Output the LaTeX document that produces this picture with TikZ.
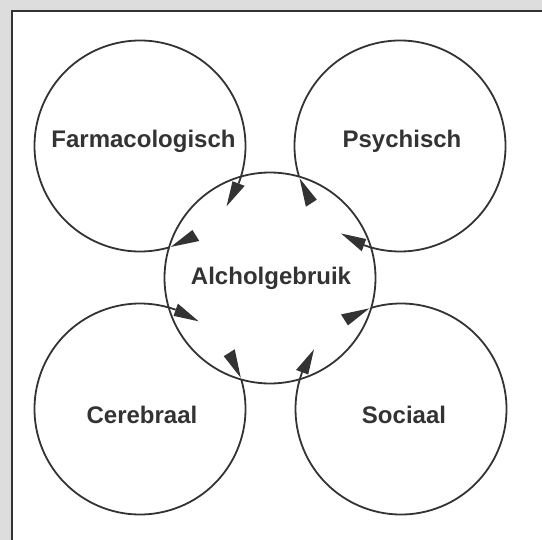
\documentclass[tikz,border=0pt]{standalone}
\usepackage{fontspec}
\setmainfont{Liberation Sans}
\usetikzlibrary{calc}
\definecolor{ink}{HTML}{333333}
\definecolor{paper}{HTML}{DDDDDD}
\tikzset{
  lbl/.style={inner sep=0pt, anchor=base, text=ink, font=\fontsize{24bp}{28bp}\selectfont\bfseries},
  ring/.style={draw=ink, line width=1.8bp},
  head/.style={fill=ink}
}
\begin{document}
\begin{tikzpicture}[x=1bp,y=-1bp]
\useasboundingbox (0,0) rectangle (542,540);
\fill[paper] (0,0) rectangle (542,540);
\fill[white] (12,11) rectangle (542,540);
\draw[ink, line width=2.4bp] (12,540) -- (12,11) -- (542,11);
\def\R{105.5}
\coordinate (C) at (270,278);
\draw[ring] (C) circle[radius=\R];
\foreach \n/\cx/\cy in {F/140/146,P/400/146,Cb/140/409,S/401/409}{
  \coordinate (\n) at (\cx,\cy);
  \pgfmathsetmacro\ddx{270-\cx}
  \pgfmathsetmacro\ddy{278-\cy}
  \pgfmathsetmacro\ph{atan2(\ddy,\ddx)}
  \pgfmathsetmacro\hal{acos(veclen(\ddx,\ddy)/(2*\R))}
  \pgfmathsetmacro\sa{\ph-\hal}
  \pgfmathsetmacro\ea{\ph+\hal}
  \pgfmathsetmacro\eb{\sa+364}
  \pgfmathsetmacro\ab{\sa+4}
  \pgfmathsetmacro\at{\sa+18}
  \pgfmathsetmacro\bb{\ea-16}
  \pgfmathsetmacro\bt{\ea-1}
  \pgfmathsetmacro\Ri{\R-6.5}
  \pgfmathsetmacro\Ro{\R+6.5}
  \draw[ring] ($(\n)+(\ea:\R)$) arc[start angle=\ea, end angle=\eb, radius=\R];
  \fill[head] ($(\n)+(\ab:\Ri)$) -- ($(\n)+(\ab:\Ro)$) -- ($(\n)+(\at:\R)$) -- cycle;
  \fill[head] ($(\n)+(\bb:\Ri)$) -- ($(\n)+(\bb:\Ro)$) -- ($(\n)+(\bt:\R)$) -- cycle;
}
\node[lbl] (farm) at (143.5,148) {Farmacologisch};
\node[lbl] (psy) at (402,148) {Psychisch};
\node[lbl] (alc) at (271,284) {Alcholgebruik};
\node[lbl] (cer) at (142,423) {Cerebraal};
\node[lbl] (soc) at (404,423) {Sociaal};
\end{tikzpicture}
\end{document}
